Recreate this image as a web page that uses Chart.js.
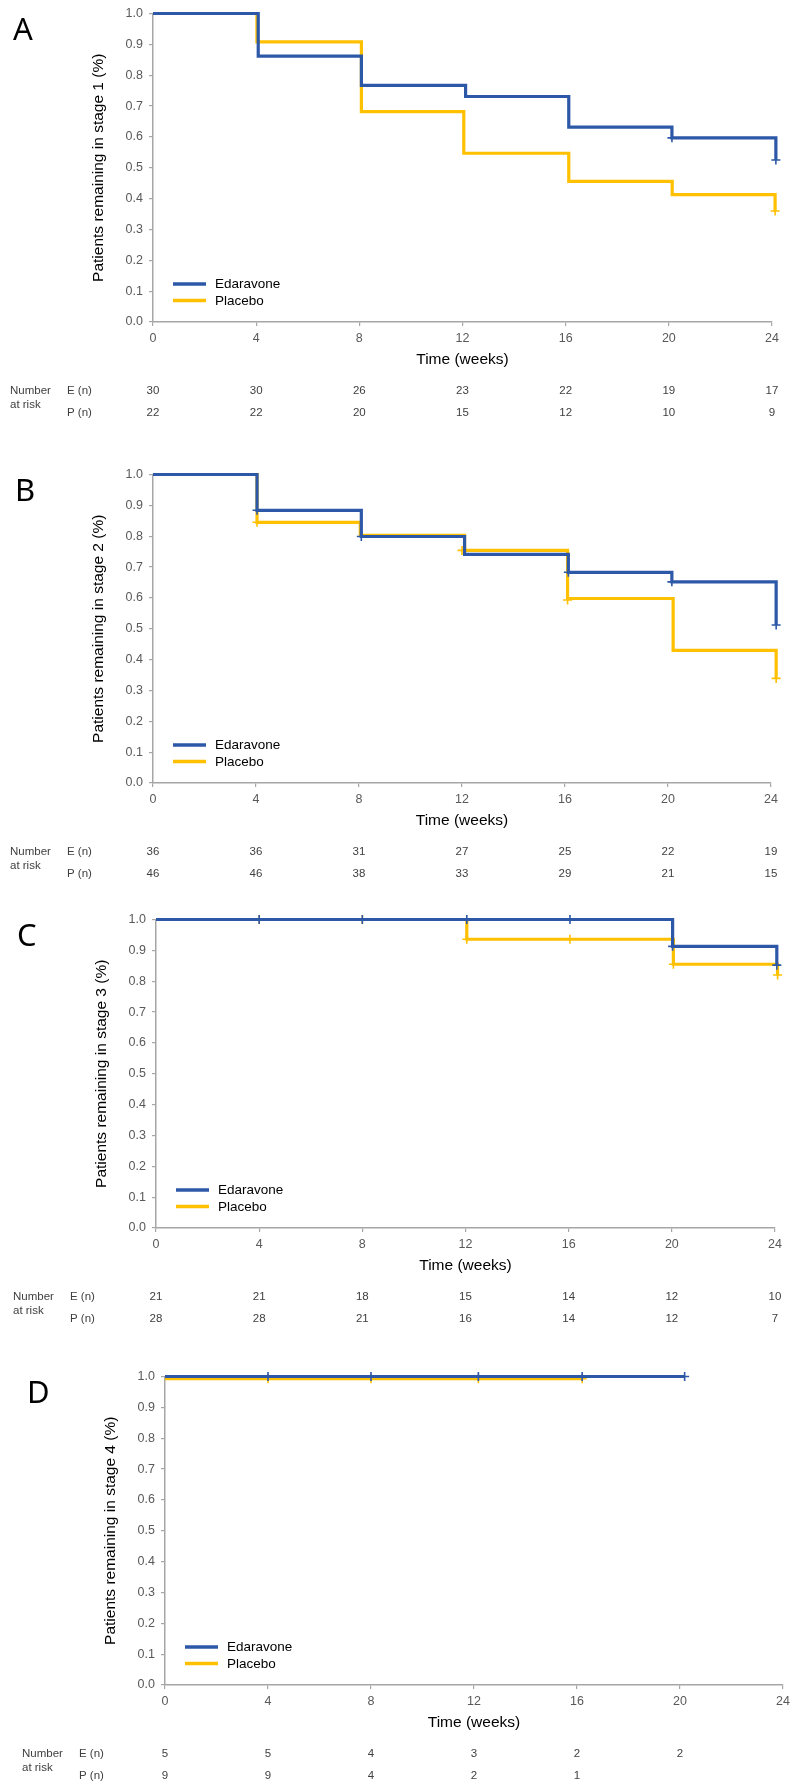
<!DOCTYPE html>
<html>
<head>
<meta charset="utf-8">
<script src="https://cdn.jsdelivr.net/npm/chart.js@4.4.1/dist/chart.umd.min.js"></script>
<style>
  html, body { margin: 0; padding: 0; background: #fff; width: 798px; height: 1785px; overflow: hidden; }
  canvas { position: absolute; left: 0; }
</style>
</head>
<body>
<canvas id="cA" width="798" height="422" style="top:0px"></canvas>
<canvas id="cB" width="798" height="422" style="top:461px"></canvas>
<canvas id="cC" width="798" height="422" style="top:906px"></canvas>
<canvas id="cD" width="798" height="422" style="top:1363px"></canvas>
<script>
const weekTicks = [0, 4, 8, 12, 16, 20, 24];

// Panel A - stage 1
const edaTimeA = [0, 4.08, 8.08, 12.12, 16.12, 20.12, 24.15];
const edaSurvA = [1.0, 0.862, 0.767, 0.731, 0.632, 0.597, 0.525];
const edaCensTA = [20.12, 24.15];
const edaCensSA = [0.597, 0.525];
const plaTimeA = [0, 4.03, 8.08, 12.05, 16.12, 20.13, 24.12];
const plaSurvA = [1.0, 0.908, 0.682, 0.547, 0.456, 0.413, 0.36];
const plaCensTA = [24.12];
const plaCensSA = [0.36];
const riskEA = [30, 30, 26, 23, 22, 19, 17];
const riskPA = [22, 22, 20, 15, 12, 10, 9];

// Panel B - stage 2
const edaTimeB = [0, 4.04, 8.09, 12.1, 16.13, 20.15, 24.2];
const edaSurvB = [1.0, 0.884, 0.799, 0.741, 0.683, 0.652, 0.512];
const edaCensTB = [4.04, 8.09, 16.13, 20.15, 24.2];
const edaCensSB = [0.884, 0.799, 0.683, 0.652, 0.512];
const plaTimeB = [0, 4.04, 8.05, 12.1, 16.1, 20.2, 24.2];
const plaSurvB = [1.0, 0.845, 0.803, 0.754, 0.598, 0.43, 0.339];
const plaCensTB = [4.04, 12.0, 16.1, 24.2];
const plaCensSB = [0.845, 0.754, 0.593, 0.339];
const riskEB = [36, 36, 31, 27, 25, 22, 19];
const riskPB = [46, 46, 38, 33, 29, 21, 15];

// Panel C - stage 3
const edaTimeC = [0, 20.03, 24.07];
const edaSurvC = [1.0, 0.913, 0.852];
const edaCensTC = [4, 8, 12.05, 16.05, 20.03, 24.07];
const edaCensSC = [1.0, 1.0, 1.0, 1.0, 0.913, 0.852];
const plaTimeC = [0, 12.05, 20.06, 24.1];
const plaSurvC = [1.0, 0.936, 0.855, 0.82];
const plaCensTC = [4, 8, 12.05, 16.05, 20.06, 24.1];
const plaCensSC = [1.0, 1.0, 0.936, 0.936, 0.855, 0.82];
const riskEC = [21, 21, 18, 15, 14, 12, 10];
const riskPC = [28, 28, 21, 16, 14, 12, 7];

// Panel D - stage 4
const edaTimeD = [0, 20.18];
const edaSurvD = [1.0, 1.0];
const edaCensTD = [4, 8, 12.17, 16.2, 20.18];
const edaCensSD = [1.0, 1.0, 1.0, 1.0, 1.0];
const plaTimeD = [0, 16.2];
const plaSurvD = [0.993, 0.993];
const plaCensTD = [4, 8, 12.17, 16.2];
const plaCensSD = [0.993, 0.993, 0.993, 0.993];
const riskED = [5, 5, 4, 3, 2, 2];
const riskPD = [9, 9, 4, 2, 1];

const FONT = "'Liberation Sans', Arial, sans-serif";
const BLUE = '#2D58A8';
const GOLD = '#FFC000';
const AXIS = '#A6A6A6';

const toPoints = (ts, ss) => ts.map((t, i) => ({ x: t, y: ss[i] }));

// letter, legend and number-at-risk table
const extras = {
  id: 'extras',
  afterDraw(chart, args, opts) {
    const { ctx, chartArea: a, scales: { x } } = chart;
    ctx.save();
    ctx.fillStyle = '#000';
    ctx.font = "31px 'Noto Sans'";
    ctx.textAlign = 'left';
    ctx.textBaseline = 'alphabetic';
    ctx.fillText(opts.letter, opts.letterX, 39.5);

    const steps = chart.data.datasets.filter(d => d.stepped);
    steps.forEach((d, i) => {
      const y = a.bottom - 38 + i * 16.5;
      ctx.strokeStyle = d.borderColor;
      ctx.lineWidth = 3.5;
      ctx.beginPath();
      ctx.moveTo(a.left + 20, y);
      ctx.lineTo(a.left + 53, y);
      ctx.stroke();
      ctx.fillStyle = '#000';
      ctx.font = `13.5px ${FONT}`;
      ctx.textBaseline = 'middle';
      ctx.fillText(d.label, a.left + 62, y + 0.5);
    });

    const yE = a.bottom + 69.3, yP = a.bottom + 90.5;
    ctx.font = `11.5px ${FONT}`;
    ctx.fillStyle = '#404040';
    ctx.textBaseline = 'middle';
    ctx.textAlign = 'left';
    ctx.fillText('Number', a.left - 143, yE);
    ctx.fillText('at risk', a.left - 143, yE + 13.5);
    ctx.fillText('E (n)', a.left - 86, yE);
    ctx.fillText('P (n)', a.left - 86, yP);
    ctx.textAlign = 'center';
    opts.riskE.forEach((n, i) => ctx.fillText(String(n), x.getPixelForValue(weekTicks[i]), yE));
    opts.riskP.forEach((n, i) => ctx.fillText(String(n), x.getPixelForValue(weekTicks[i]), yP));
    ctx.restore();
  }
};

const panels = [
  { id: 'cA', letter: 'A', stage: 1, left: 153, right: 772, letterX: 13,
    e: toPoints(edaTimeA, edaSurvA), ec: toPoints(edaCensTA, edaCensSA),
    p: toPoints(plaTimeA, plaSurvA), pc: toPoints(plaCensTA, plaCensSA), riskE: riskEA, riskP: riskPA },
  { id: 'cB', letter: 'B', stage: 2, left: 153, right: 771, letterX: 15,
    e: toPoints(edaTimeB, edaSurvB), ec: toPoints(edaCensTB, edaCensSB),
    p: toPoints(plaTimeB, plaSurvB), pc: toPoints(plaCensTB, plaCensSB), riskE: riskEB, riskP: riskPB },
  { id: 'cC', letter: 'C', stage: 3, left: 156, right: 775, letterX: 17,
    e: toPoints(edaTimeC, edaSurvC), ec: toPoints(edaCensTC, edaCensSC),
    p: toPoints(plaTimeC, plaSurvC), pc: toPoints(plaCensTC, plaCensSC), riskE: riskEC, riskP: riskPC },
  { id: 'cD', letter: 'D', stage: 4, left: 165, right: 783, letterX: 27,
    e: toPoints(edaTimeD, edaSurvD), ec: toPoints(edaCensTD, edaCensSD),
    p: toPoints(plaTimeD, plaSurvD), pc: toPoints(plaCensTD, plaCensSD), riskE: riskED, riskP: riskPD },
];

const stepLine = (label, color, data) => ({
  label, data, stepped: 'before', borderColor: color, backgroundColor: color,
  borderWidth: 3.2, pointRadius: 0, fill: false, clip: false,
  borderCapStyle: 'butt', borderJoinStyle: 'miter'
});
const censors = (color, data) => ({
  label: '', data, showLine: false, pointStyle: 'cross', pointRadius: 4.5,
  pointBorderWidth: 1.6, borderColor: color, backgroundColor: color, clip: false
});

panels.forEach(p => {
  new Chart(document.getElementById(p.id), {
    type: 'line',
    data: {
      datasets: [
        stepLine('Edaravone', BLUE, p.e),
        censors(BLUE, p.ec),
        stepLine('Placebo', GOLD, p.p),
        censors(GOLD, p.pc),
      ],
    },
    plugins: [extras],
    options: {
      responsive: false,
      animation: false,
      devicePixelRatio: 1,
      layout: { padding: { left: 0, top: 11, right: 798 - p.right, bottom: 50 } },
      plugins: {
        legend: { display: false },
        tooltip: { enabled: false },
        extras: { letter: p.letter, letterX: p.letterX, riskE: p.riskE, riskP: p.riskP },
      },
      scales: {
        x: {
          type: 'linear', min: 0, max: 24,
          afterFit: s => { s.height = 50; },
          border: { color: AXIS, width: 1.5 },
          grid: { drawOnChartArea: false, color: AXIS, tickLength: 4, lineWidth: 1.2 },
          ticks: { stepSize: 4, padding: 4.8, color: '#595959', font: { family: FONT, size: 12.5 } },
          title: { display: true, text: 'Time (weeks)', color: '#000',
                   font: { family: FONT, size: 15.5 }, padding: { top: 0, bottom: 3.4 } },
        },
        y: {
          min: 0, max: 1,
          afterFit: s => { s.width = p.left; },
          border: { color: AXIS, width: 1.5 },
          grid: { drawOnChartArea: false, color: AXIS, tickLength: 4, lineWidth: 1.2 },
          ticks: { stepSize: 0.1, padding: 6, color: '#595959', font: { family: FONT, size: 12.5 },
                   callback: v => v.toFixed(1) },
          title: { display: true, text: `Patients remaining in stage ${p.stage} (%)`, color: '#000',
                   font: { family: FONT, size: 15.5 }, padding: { top: p.left - 54.3 - 9.3, bottom: 0 } },
        },
      },
    },
  });
});
</script>
</body>
</html>
